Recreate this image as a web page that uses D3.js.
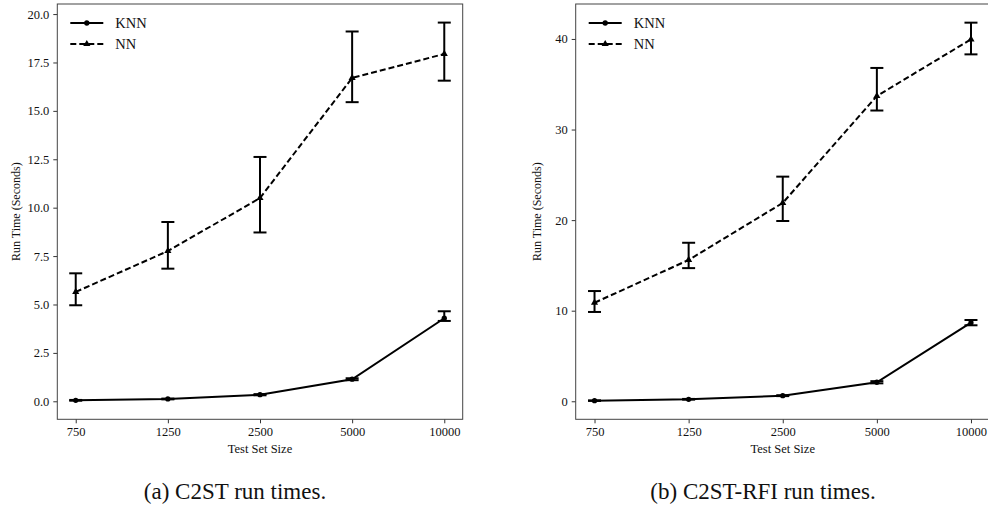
<!DOCTYPE html>
<html>
<head>
<meta charset="utf-8">
<style>
  body { margin: 0; background: #fff; }
  text { font-family: "Liberation Serif", "DejaVu Serif", serif; fill: #111; }
</style>
</head>
<body>
<div id="vizDiv"></div>
<script src="https://d3js.org/d3.v7.min.js"></script>
<script>
// test set sizes (categorical x)
const sizes = ["750", "1250", "2500", "5000", "10000"];

// (a) C2ST
const knnA = [0.05, 0.12, 0.34, 1.14, 4.29];
const knnALow = [0.03, 0.10, 0.31, 1.09, 4.15];
const knnAHigh = [0.07, 0.14, 0.37, 1.19, 4.65];
const nnA = [5.65, 7.76, 10.5, 16.7, 17.94];
const nnALow = [4.96, 6.85, 8.72, 15.45, 16.56];
const nnAHigh = [6.61, 9.26, 12.62, 19.1, 19.56];
const ticksA = [0, 2.5, 5, 7.5, 10, 12.5, 15, 17.5, 20];

// (b) C2ST-RFI
const knnB = [0.07, 0.22, 0.62, 2.1, 8.68];
const knnBLow = [0.04, 0.18, 0.57, 1.98, 8.39];
const knnBHigh = [0.1, 0.26, 0.67, 2.22, 8.97];
const nnB = [10.88, 15.6, 21.9, 33.7, 39.96];
const nnBLow = [9.86, 14.7, 19.9, 32.1, 38.3];
const nnBHigh = [12.17, 17.5, 24.8, 36.8, 41.8];
const ticksB = [0, 10, 20, 30, 40];

const svg = d3.select("#vizDiv")
    .append("svg")
    .attr("width", 988)
    .attr("height", 506);

function drawPanel(opt) {
    const x = d3.scalePoint()
        .domain(sizes)
        .range([opt.left, opt.right])
        .padding(0.2);
    const y = d3.scaleLinear()
        .domain(opt.ydom)
        .range([opt.bottom, opt.top]);

    const g = svg.append("g");

    // axes
    const xAxis = d3.axisBottom(x).tickSizeOuter(0).tickSize(4).tickPadding(4);
    const yAxis = d3.axisLeft(y).tickValues(opt.ticks).tickFormat(opt.fmt)
        .tickSizeOuter(0).tickSize(4).tickPadding(4);

    const gx = g.append("g").attr("transform", `translate(0,${opt.bottom})`).call(xAxis);
    const gy = g.append("g").attr("transform", `translate(${opt.left},0)`).call(yAxis);
    [gx, gy].forEach(a => {
        a.select(".domain").remove();
        a.selectAll(".tick line").attr("stroke", "#333");
        a.selectAll(".tick text")
            .style("font-family", "Liberation Serif, serif")
            .style("font-size", "12.5px")
            .attr("fill", "#222");
    });

    // frame
    g.append("rect")
        .attr("x", opt.left).attr("y", opt.top)
        .attr("width", opt.right - opt.left)
        .attr("height", opt.bottom - opt.top)
        .attr("fill", "none")
        .attr("stroke", "#444")
        .attr("stroke-width", 1);

    // labels
    g.append("text")
        .attr("x", x("2500"))
        .attr("y", opt.bottom + 34)
        .attr("text-anchor", "middle")
        .style("font-size", "12.5px")
        .text("Test Set Size");
    g.append("text")
        .attr("transform", `translate(${opt.ylabX},${(opt.top + opt.bottom) / 2}) rotate(-90)`)
        .attr("text-anchor", "middle")
        .style("font-size", "12px")
        .text("Run Time (Seconds)");

    const series = [
        { vals: opt.knn, lo: opt.knnLo, hi: opt.knnHi, dash: null, marker: d3.symbolCircle, msize: 22 },
        { vals: opt.nn, lo: opt.nnLo, hi: opt.nnHi, dash: "6,3", marker: d3.symbolTriangle, msize: 22 }
    ];

    const line = d3.line().x((d, i) => x(sizes[i])).y(d => y(d));

    series.forEach(s => {
        g.append("path")
            .datum(s.vals)
            .attr("d", line)
            .attr("fill", "none")
            .attr("stroke", "#000")
            .attr("stroke-width", 2)
            .attr("stroke-dasharray", s.dash);

        // error bars
        const eb = g.append("g");
        s.vals.forEach((v, i) => {
            const cx = x(sizes[i]);
            eb.append("line")
                .attr("x1", cx).attr("x2", cx)
                .attr("y1", y(s.lo[i])).attr("y2", y(s.hi[i]))
                .attr("stroke", "#000").attr("stroke-width", 2);
            [s.lo[i], s.hi[i]].forEach(e => {
                eb.append("line")
                    .attr("x1", cx - 6.5).attr("x2", cx + 6.5)
                    .attr("y1", y(e)).attr("y2", y(e))
                    .attr("stroke", "#000").attr("stroke-width", 2);
            });
        });

        g.selectAll(null)
            .data(s.vals)
            .enter()
            .append("path")
            .attr("d", d3.symbol().type(s.marker).size(s.msize))
            .attr("transform", (d, i) => `translate(${x(sizes[i])},${y(d)})`)
            .attr("fill", "#000");
    });

    // legend
    const lg = g.append("g");
    const lx0 = opt.left + 13, lx1 = opt.left + 46;
    [["KNN", null, d3.symbolCircle, 23], ["NN", "6,3", d3.symbolTriangle, 44]].forEach(r => {
        lg.append("line")
            .attr("x1", lx0).attr("x2", lx1)
            .attr("y1", r[3]).attr("y2", r[3])
            .attr("stroke", "#000").attr("stroke-width", 2)
            .attr("stroke-dasharray", r[1]);
        lg.append("path")
            .attr("d", d3.symbol().type(r[2]).size(22))
            .attr("transform", `translate(${(lx0 + lx1) / 2},${r[3]})`)
            .attr("fill", "#000");
        lg.append("text")
            .attr("x", lx1 + 12)
            .attr("y", r[3])
            .attr("dy", "0.35em")
            .style("font-size", "14.5px")
            .text(r[0]);
    });

    // caption
    svg.append("text")
        .attr("x", opt.capX)
        .attr("y", 499)
        .attr("text-anchor", "middle")
        .style("font-size", "23px")
        .text(opt.caption);
}

drawPanel({
    left: 57.3, right: 462.7, top: 4, bottom: 419.3,
    ydom: [-0.93, 20.52], ticks: ticksA, fmt: d3.format(".1f"),
    knn: knnA, knnLo: knnALow, knnHi: knnAHigh,
    nn: nnA, nnLo: nnALow, nnHi: nnAHigh,
    ylabX: 20, capX: 235, caption: "(a) C2ST run times."
});

drawPanel({
    left: 575.7, right: 989.8, top: 4, bottom: 419.3,
    ydom: [-1.99, 43.86], ticks: ticksB, fmt: d3.format("d"),
    knn: knnB, knnLo: knnBLow, knnHi: knnBHigh,
    nn: nnB, nnLo: nnBLow, nnHi: nnBHigh,
    ylabX: 541, capX: 763, caption: "(b) C2ST-RFI run times."
});
</script>
</body>
</html>
